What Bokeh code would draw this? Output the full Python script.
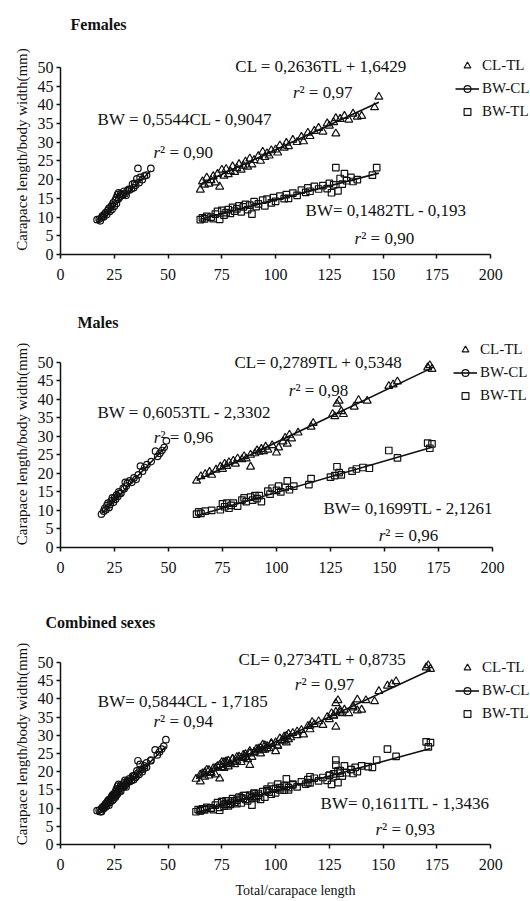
from bokeh.plotting import figure
from bokeh.layouts import column
from bokeh.models import Label, Legend, LegendItem, FixedTicker, Range1d, Title
from bokeh.embed import file_html
from bokeh.resources import INLINE

FONT = "Liberation Serif"

# ---------------- data ----------------
panel_titles = ["Females", "Males", "Combined sexes"]
legend_labels = ["CL-TL", "BW-CL", "BW-TL"]
x_ticks = [0, 25, 50, 75, 100, 125, 150, 175, 200]
y_ticks = [0, 5, 10, 15, 20, 25, 30, 35, 40, 45, 50]

fem_cltl_tl = [65, 66, 67, 68, 69, 70, 71, 72, 73, 74, 75, 76, 77, 78, 79, 80, 81, 82, 83, 84,
               85, 86, 87, 88, 89, 90, 92, 93, 94, 95, 96, 97, 98, 100, 101, 102, 104, 105, 106,
               108, 110, 112, 113, 115, 116, 118, 120, 122, 124, 125, 127, 128, 128, 130, 132,
               134, 136, 138, 140, 146, 148]
fem_cltl_cl = [17.3, 19.5, 18.6, 20.5, 18.9, 19.8, 20.9, 19.2, 21.5, 18.1, 22.6, 21.0, 22.8, 21.4,
               22.2, 23.5, 22.0, 23.0, 24.1, 22.6, 23.7, 24.8, 23.4, 25.6, 24.0, 25.2, 26.3, 25.0,
               27.4, 26.0, 27.0, 26.4, 27.8, 28.0, 27.2, 29.1, 28.5, 29.8, 28.9, 30.6, 30.0, 31.4,
               30.2, 32.5, 31.6, 33.0, 33.8, 32.8, 35.0, 34.4, 35.3, 36.4, 32.3, 36.2, 37.0, 36.0,
               37.6, 36.8, 37.0, 39.3, 42.1]
fem_bwcl_cl = [17, 18, 18.5, 19, 19.5, 20, 20.5, 21, 21.5, 22, 22.5, 23, 23.5, 24, 24, 24.5, 25,
               25.5, 26, 26, 26.5, 27, 27, 27.5, 28, 28.5, 29, 29.5, 30, 30.5, 31, 31.5, 32, 33,
               33.5, 34, 34.5, 35, 35.5, 36, 36.5, 37, 38, 39, 40, 42]
fem_bwcl_bw = [9.3, 9.4, 9.0, 9.8, 10.3, 10.0, 10.8, 11.2, 10.6, 11.8, 12.3, 11.5, 12.8, 13.2, 12.0,
               13.8, 12.9, 14.5, 15.2, 13.6, 16.0, 14.8, 16.5, 15.5, 16.3, 16.0, 15.8, 16.9, 16.2,
               15.8, 17.0, 17.4, 17.2, 17.5, 18.8, 17.8, 19.0, 18.5, 20.2, 23.0, 19.2, 20.6, 20.0,
               21.0, 21.2, 23.0]
fem_bwtl_tl = [65, 66, 67, 68, 70, 71, 72, 73, 74, 75, 76, 77, 78, 79, 80, 81, 82, 83, 84, 85, 86,
               87, 88, 89, 90, 91, 92, 94, 95, 96, 98, 99, 100, 102, 104, 105, 106, 108, 110, 112,
               114, 115, 116, 118, 120, 122, 124, 125, 126, 127, 128, 129, 130, 131, 132, 133, 135,
               136, 138, 145, 147]
fem_bwtl_bw = [9.3, 9.8, 9.5, 10.2, 10.0, 9.6, 10.8, 11.5, 9.4, 11.8, 10.5, 11.2, 12.0, 11.0, 12.6,
               11.6, 12.2, 13.0, 11.4, 12.7, 13.4, 12.0, 13.2, 10.8, 14.1, 12.8, 13.5, 14.5, 13.0,
               14.8, 13.8, 15.2, 14.2, 15.6, 14.9, 16.0, 15.0, 16.4, 15.8, 17.2, 16.6, 17.8, 16.9,
               18.2, 17.5, 18.4, 17.6, 19.0, 16.5, 18.6, 23.2, 17.0, 20.3, 18.8, 21.6, 19.7, 20.6,
               19.5, 20.0, 21.2, 23.2]

male_cltl_tl = [63, 65, 67, 69, 70, 72, 74, 75, 76, 77, 78, 80, 81, 82, 84, 85, 86, 88, 88, 90, 91,
                92, 93, 94, 95, 96, 98, 100, 101, 103, 104, 105, 106, 107, 110, 116, 117, 126, 127,
                128, 129, 130, 131, 136, 138, 142, 152, 154, 156, 170, 171, 172]
male_cltl_cl = [18.0, 19.2, 19.8, 20.4, 19.6, 21.0, 21.8, 21.2, 22.6, 22.0, 23.0, 23.4, 22.6, 24.0,
                23.8, 24.6, 24.0, 21.8, 25.0, 25.4, 26.2, 25.8, 26.6, 26.0, 27.2, 26.4, 27.6, 25.6,
                27.0, 28.6, 29.6, 28.0, 30.4, 29.4, 31.0, 32.6, 33.6, 36.0, 35.4, 38.8, 39.6, 36.8,
                36.0, 38.0, 39.8, 39.6, 43.6, 44.0, 44.8, 48.6, 49.2, 48.2]
male_bwcl_cl = [19, 20, 20.5, 21, 21.5, 22, 22.5, 23, 23.5, 24, 24.5, 25, 25.5, 26, 26.5, 27, 27.5,
                28, 29, 29.5, 30, 30.5, 31, 32, 33, 34, 35, 36, 37, 38, 39, 40, 42, 44, 45, 46, 47,
                48, 49]
male_bwcl_bw = [9.0, 9.8, 10.6, 10.2, 11.4, 12.0, 10.8, 11.6, 12.6, 13.4, 12.2, 13.4, 13.0, 14.2,
                13.8, 15.0, 14.6, 14.6, 16.0, 15.8, 17.6, 16.6, 17.4, 18.0, 17.6, 18.8, 18.4, 19.6,
                22.0, 20.6, 21.6, 22.4, 23.2, 26.0, 24.6, 25.4, 26.2, 27.0, 28.8]
male_bwtl_tl = [63, 64, 65, 67, 70, 74, 75, 76, 77, 78, 79, 80, 82, 84, 85, 86, 88, 89, 90, 91, 92,
                93, 96, 97, 98, 100, 101, 102, 104, 105, 106, 108, 115, 116, 125, 127, 128, 129,
                130, 135, 137, 140, 143, 152, 156, 170, 171, 172]
male_bwtl_bw = [9.0, 9.6, 9.2, 9.8, 10.0, 10.2, 11.8, 11.0, 12.0, 10.6, 11.4, 12.0, 11.2, 12.8,
                13.4, 12.4, 13.6, 12.8, 14.0, 13.2, 14.0, 12.4, 15.2, 14.4, 16.0, 15.4, 16.6, 15.0,
                16.2, 18.0, 15.6, 16.6, 17.0, 18.6, 19.0, 19.4, 21.8, 20.2, 19.6, 20.6, 21.2, 21.6,
                21.4, 26.2, 24.2, 28.2, 26.8, 28.0]

# regression coefficients (slope, intercept) and fitted x extent, as printed on the chart
fem_fit = {"CL-TL": (0.2636, 1.6429, 65, 148), "BW-CL": (0.5544, -0.9047, 17, 42),
           "BW-TL": (0.1482, -0.193, 65, 148)}
male_fit = {"CL-TL": (0.2789, 0.5348, 63, 172), "BW-CL": (0.6053, -2.3302, 19, 49),
            "BW-TL": (0.1699, -2.1261, 63, 172)}
comb_fit = {"CL-TL": (0.2734, 0.8735, 63, 172), "BW-CL": (0.5844, -1.7185, 17, 49),
            "BW-TL": (0.1611, -1.3436, 63, 172)}

fem_eq = ["CL = 0,2636TL + 1,6429", "BW = 0,5544CL - 0,9047", "BW= 0,1482TL - 0,193"]
fem_r2 = ["0,97", "0,90", "0,90"]
male_eq = ["CL= 0,2789TL + 0,5348", "BW = 0,6053TL - 2,3302", "BW= 0,1699TL - 2,1261"]
male_r2 = ["0,98", "0,96", "0,96"]
comb_eq = ["CL= 0,2734TL + 0,8735", "BW= 0,5844CL - 1,7185", "BW= 0,1611TL - 1,3436"]
comb_r2 = ["0,97", "0,94", "0,93"]

# ---------------- layout (positions, not data) ----------------
W = 530
geoms = [
    dict(h=300, top=44, bottom=46, left=58, y_end=56.1, x_end=218.5, leg=(395, 134),
         title_off=10, eq=[(121.3, 50.3), (57.9, 36.1), (151.4, 11.8)],
         r2=[(121.8, 43.3), (57.0, 27.3), (150.5, 4.3)]),
    dict(h=297, top=40, bottom=50, left=60, y_end=55.9, x_end=217.6, leg=(393, 143),
         title_off=17, eq=[(119.4, 50.0), (57.4, 36.5), (161.0, 10.5)],
         r2=[(119.4, 42.4), (56.9, 29.7), (161.0, 3.2)]),
    dict(h=304, top=46, bottom=57, left=58, y_end=55.2, x_end=218.5, leg=(395, 122),
         title_off=-15, eq=[(121.8, 50.8), (57.0, 39.3), (160.2, 11.3)],
         r2=[(122.7, 44.0), (57.0, 33.8), (160.2, 4.1)]),
]


def make_panel(i, title, series, fits, eqs, r2s, xlabel=None):
    g = geoms[i]
    p = figure(width=W, height=g["h"], output_backend="svg", toolbar_location=None,
               x_range=Range1d(0, g["x_end"]), y_range=Range1d(0, g["y_end"]),
               min_border_top=g["top"], min_border_bottom=g["bottom"],
               min_border_left=g["left"], min_border_right=0)
    p.title = Title(text=title, align="left", offset=g["title_off"], vertical_align="middle",
                    standoff=g["top"] - 22, text_font=FONT, text_font_size="16px",
                    text_font_style="bold", text_color="#111111")
    p.outline_line_color = None
    p.grid.visible = False
    p.background_fill_color = "white"

    for ax, ticks, bounds in ((p.xaxis[0], x_ticks, (0, 200)), (p.yaxis[0], y_ticks, (0, 50))):
        ax.ticker = FixedTicker(ticks=ticks)
        ax.bounds = bounds
        ax.axis_line_color = "#111111"
        ax.axis_line_width = 1.5
        ax.major_tick_line_color = "#111111"
        ax.major_tick_line_width = 1.5
        ax.major_tick_out = 4
        ax.major_tick_in = 0
        ax.minor_tick_line_color = None
        ax.major_label_text_font = FONT
        ax.major_label_text_font_size = "16px"
        ax.major_label_text_color = "#111111"
        ax.axis_label_text_font = FONT
        ax.axis_label_text_font_style = "normal"
        ax.axis_label_text_color = "#111111"
    p.xaxis.major_label_standoff = 10
    p.yaxis.major_label_standoff = 3
    p.yaxis.axis_label = "Carapace length/body width(mm)"
    p.yaxis.axis_label_text_font_size = "15px"
    p.yaxis.axis_label_standoff = 5
    if xlabel:
        p.xaxis.axis_label = xlabel
        p.xaxis.axis_label_text_font_size = "14px"
        p.xaxis.axis_label_standoff = 10

    (tl1, cl1), (cl2, bw2), (tl3, bw3) = series
    lines = {}
    for key in ("CL-TL", "BW-CL", "BW-TL"):
        a, b, x0, x1 = fits[key]
        lines[key] = p.line([x0, x1], [a * x0 + b, a * x1 + b], line_color="#111111",
                            line_width=1.6)
    common = dict(line_color="#111111", fill_alpha=0, line_width=1.2)
    r_tri = p.scatter(tl1, cl1, marker="triangle", size=8, **common)
    r_cir = p.scatter(cl2, bw2, marker="circle", size=6.5, **common)
    r_sq = p.scatter(tl3, bw3, marker="square", size=6.5, **common)

    legend = Legend(items=[LegendItem(label=legend_labels[0], renderers=[r_tri]),
                           LegendItem(label=legend_labels[1], renderers=[lines["BW-CL"], r_cir]),
                           LegendItem(label=legend_labels[2], renderers=[r_sq])],
                    location=g["leg"], orientation="vertical",
                    label_text_font=FONT, label_text_font_size="15px",
                    label_text_color="#111111", label_height=17, glyph_height=17,
                    glyph_width=24, label_standoff=3, spacing=6, padding=0, margin=0,
                    border_line_alpha=0, background_fill_alpha=0)
    p.add_layout(legend)

    for text, (ex, ey) in zip(eqs, g["eq"]):
        p.add_layout(Label(x=ex, y=ey, text=text, text_font=FONT, text_font_size="17px",
                           text_align="center", text_baseline="middle", text_color="#111111"))
    for text, (rx, ry) in zip(r2s, g["r2"]):
        p.add_layout(Label(x=rx, y=ry, x_offset=-23, text="r", text_font=FONT,
                           text_font_size="17px", text_font_style="italic", text_align="right",
                           text_baseline="middle", text_color="#111111"))
        p.add_layout(Label(x=rx, y=ry, x_offset=-23, text="\u00b2 = " + text, text_font=FONT,
                           text_font_size="17px", text_align="left", text_baseline="middle",
                           text_color="#111111"))
    return p


fem_series = [(fem_cltl_tl, fem_cltl_cl), (fem_bwcl_cl, fem_bwcl_bw), (fem_bwtl_tl, fem_bwtl_bw)]
male_series = [(male_cltl_tl, male_cltl_cl), (male_bwcl_cl, male_bwcl_bw),
               (male_bwtl_tl, male_bwtl_bw)]
comb_series = [(a[0] + b[0], a[1] + b[1]) for a, b in zip(fem_series, male_series)]

p1 = make_panel(0, panel_titles[0], fem_series, fem_fit, fem_eq, fem_r2)
p2 = make_panel(1, panel_titles[1], male_series, male_fit, male_eq, male_r2)
p3 = make_panel(2, panel_titles[2], comb_series, comb_fit, comb_eq, comb_r2,
                xlabel="Total/carapace length")

layout = column(p1, p2, p3, spacing=0)
open("out.html", "w").write(file_html(layout, INLINE))
